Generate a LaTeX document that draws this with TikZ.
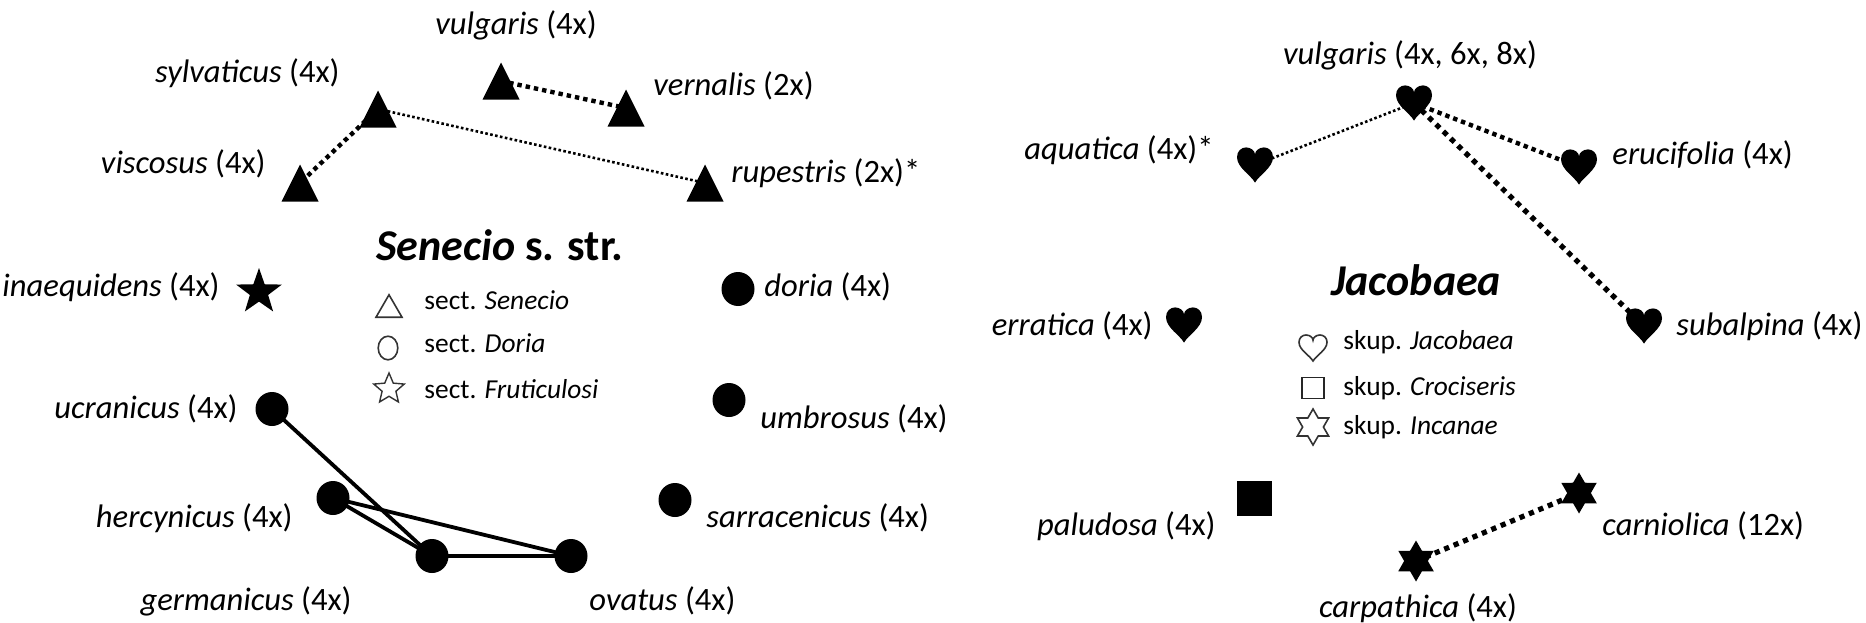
\documentclass[tikz,border=0pt]{standalone}
\usepackage{fontspec}
\setmainfont{Carlito}
\usetikzlibrary{shapes.geometric}
\pgfdeclarelayer{bg}
\pgfdeclarelayer{edges}
\pgfsetlayers{bg,edges,main}
\newcommand\heartpath{(0,-1) .. controls (-0.25,-0.55) and (-1,-0.15) .. (-1,0.45) .. controls (-1,0.8) and (-0.75,1) .. (-0.5,1) .. controls (-0.22,1) and (0,0.8) .. (0,0.6) .. controls (0,0.8) and (0.22,1) .. (0.5,1) .. controls (0.75,1) and (1,0.8) .. (1,0.45) .. controls (1,-0.15) and (0.25,-0.55) .. (0,-1) -- cycle}
\tikzset{
  lab/.style={inner sep=0pt, font=\fontsize{16.3}{19}\selectfont},
  leg/.style={inner sep=0pt, font=\fontsize{13.7}{16}\selectfont},
  ttl/.style={inner sep=0pt, font=\fontsize{22}{26}\selectfont\bfseries},
  mbox/.style={rectangle, inner sep=0pt, minimum size=26pt},
  triF/.style={mbox, path picture={\fill[shift={(path picture bounding box.center)}, x=1pt, y=1pt] (-9.25,-9.25) -- (9.25,-9.25) -- (0,9.25) -- cycle;}},
  triO/.style={mbox, path picture={\draw[line width=0.8pt, black!80, shift={(path picture bounding box.center)}, x=1pt, y=1pt] (-6.5,-5.6) -- (6.5,-5.6) -- (0,5.6) -- cycle;}},
  circF/.style={ellipse, fill=black, inner sep=0pt, minimum width=16.5pt, minimum height=17pt},
  circO/.style={ellipse, draw=black!80, line width=0.8pt, inner sep=0pt, minimum width=9.8pt, minimum height=11.8pt},
  starF/.style={star, star points=5, star point ratio=2.5, fill=black, inner sep=0pt, minimum size=24pt},
  starO/.style={star, star points=5, star point ratio=2.2, draw=black!80, line width=0.7pt, inner sep=0pt, minimum size=16pt},
  hexF/.style={star, star points=6, star point ratio=1.73, fill=black, inner sep=0pt, minimum size=20.5pt},
  hexO/.style={star, star points=6, star point ratio=1.73, draw=black!80, line width=0.8pt, inner sep=0pt, minimum size=18pt},
  sqF/.style={rectangle, fill=black, inner sep=0pt, minimum size=17.5pt},
  sqO/.style={rectangle, draw=black!85, line width=0.9pt, inner sep=0pt, minimum width=11pt, minimum height=10.5pt},
  heartF/.style={mbox, path picture={\fill[shift={(path picture bounding box.center)}, x=9pt, y=8.8pt] \heartpath;}},
  heartO/.style={mbox, path picture={\draw[line width=0.8pt, black!80, shift={(path picture bounding box.center)}, x=7pt, y=6.5pt] \heartpath;}},
  solidl/.style={line width=1.9pt},
  thickdot/.style={line width=2.6pt, dash pattern=on 2.6pt off 2.5pt},
  meddot/.style={line width=2.2pt, dash pattern=on 2.2pt off 2pt},
  thindot/.style={line width=1.3pt, dash pattern=on 1.3pt off 1.2pt}
}
\begin{document}
\begin{tikzpicture}[x=0.5pt, y=-0.5pt]
\begin{pgfonlayer}{bg}
\fill[white] (0,0) rectangle (1866,622);
\end{pgfonlayer}
\useasboundingbox (0,0) rectangle (1866,622);

% ---------- Senecio s. str. ----------
\node[triF] (vulgL) at (501,81) {};
\node[triF] (vern) at (626,108) {};
\node[triF] (sylv) at (378,109) {};
\node[triF] (visc) at (300,183) {};
\node[triF] (rup) at (705,183) {};
\node[starF] (inaeq) at (259,292) {};
\node[circF] (doria) at (738,289) {};
\node[circF] (ucr) at (272,409) {};
\node[circF] (umb) at (729,400) {};
\node[circF] (herc) at (333,498) {};
\node[circF] (sarr) at (675,500) {};
\node[circF] (germ) at (432,556) {};
\node[circF] (ovat) at (571,556) {};

\node[lab] (lvulgL) at (516,25) {\textit{vulgaris} (4x)};
\node[lab, anchor=east] (lsylv) at (340,73) {\textit{sylvaticus} (4x)};
\node[lab, anchor=west] (lvern) at (653,86) {\textit{vernalis} (2x)};
\node[lab, anchor=east] (lvisc) at (266,164) {\textit{viscosus} (4x)};
\node[lab, anchor=west] (lrup) at (731,173) {\textit{rupestris} (2x)*};
\node[lab, anchor=east] (linaeq) at (220,287) {\textit{inaequidens} (4x)};
\node[lab, anchor=west] (ldoria) at (764,287) {\textit{doria} (4x)};
\node[lab, anchor=east] (lucr) at (238,409) {\textit{ucranicus} (4x)};
\node[lab, anchor=west] (lumb) at (760,419) {\textit{umbrosus} (4x)};
\node[lab, anchor=east] (lherc) at (293,518) {\textit{hercynicus} (4x)};
\node[lab, anchor=west] (lsarr) at (706,518) {\textit{sarracenicus} (4x)};
\node[lab, anchor=east] (lgerm) at (352,601) {\textit{germanicus} (4x)};
\node[lab, anchor=west] (lovat) at (589,601) {\textit{ovatus} (4x)};

\node[ttl] (tsen) at (500,245) {\textit{Senecio} s. str.};

\node[triO] (kTri) at (389,306) {};
\node[circO] (kCirc) at (388,348) {};
\node[starO] (kStar) at (389,389) {};
\node[leg, anchor=west] (kt1) at (424,300) {sect. \textit{Senecio}};
\node[leg, anchor=west] (kt2) at (424,343) {sect. \textit{Doria}};
\node[leg, anchor=west] (kt3) at (424,389) {sect. \textit{Fruticulosi}};

% ---------- Jacobaea ----------
\node[heartF] (vulgR) at (1414,103) {};
\node[heartF] (aqua) at (1255,165) {};
\node[heartF] (eruc) at (1579,167) {};
\node[heartF] (erra) at (1184,325) {};
\node[heartF] (subalp) at (1644,326) {};
\node[sqF] (palud) at (1254,498) {};
\node[hexF] (carn) at (1579,493) {};
\node[hexF] (carp) at (1416,561) {};

\node[lab] (lvulgR) at (1410,55) {\textit{vulgaris} (4x, 6x, 8x)};
\node[lab, anchor=east] (laqua) at (1214,150) {\textit{aquatica} (4x)*};
\node[lab, anchor=west] (leruc) at (1612,155) {\textit{erucifolia} (4x)};
\node[lab, anchor=east] (lerra) at (1153,326) {\textit{erratica} (4x)};
\node[lab, anchor=west] (lsubalp) at (1676,326) {\textit{subalpina} (4x)};
\node[lab, anchor=east] (lpalud) at (1216,526) {\textit{paludosa} (4x)};
\node[lab, anchor=west] (lcarn) at (1602,526) {\textit{carniolica} (12x)};
\node[lab] (lcarp) at (1418,608) {\textit{carpathica} (4x)};

\node[ttl] (tjac) at (1416,280) {\textit{Jacobaea}};

\node[heartO] (kHeart) at (1313,348) {};
\node[sqO] (kSq) at (1313,388) {};
\node[hexO] (kHex) at (1313,427) {};
\node[leg, anchor=west] (ks1) at (1343,342) {skup. \textit{Jacobaea}};
\node[leg, anchor=west] (ks2) at (1343,388) {skup. \textit{Crociseris}};
\node[leg, anchor=west] (ks3) at (1343,427) {skup. \textit{Incanae}};

% ---------- connectors ----------
\begin{pgfonlayer}{edges}
\draw[meddot] (vulgL.center) -- (vern.center);
\draw[meddot] (sylv.center) -- (visc.center);
\draw[thindot] (sylv.center) -- (rup.center);
\draw[solidl] (ucr.center) -- (germ.center);
\draw[solidl] (herc.center) -- (germ.center);
\draw[solidl] (herc.center) -- (ovat.center);
\draw[solidl] (germ.center) -- (ovat.center);
\draw[thindot] (vulgR.center) -- (aqua.center);
\draw[meddot] (vulgR.center) -- (eruc.center);
\draw[thickdot] (vulgR.center) -- (subalp.center);
\draw[thickdot] (carp.center) -- (carn.center);
\end{pgfonlayer}
\end{tikzpicture}
\end{document}
